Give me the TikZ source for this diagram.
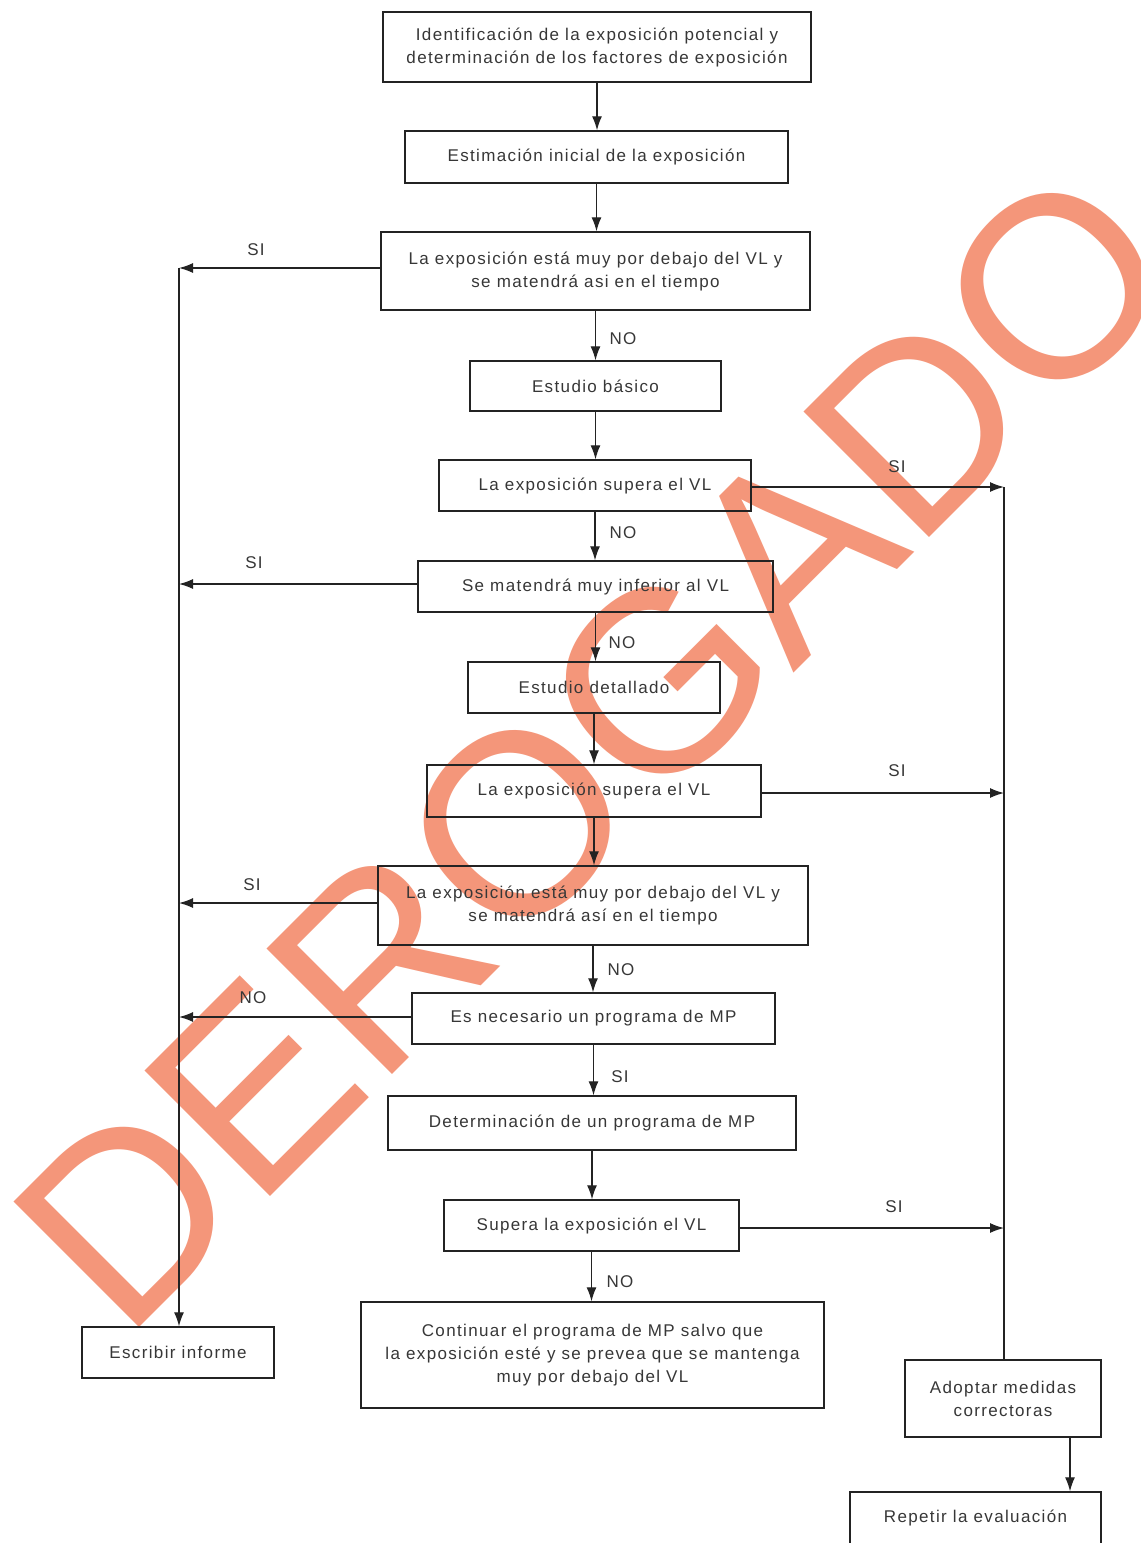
\documentclass[tikz,border=0pt]{standalone}
\usepackage{fontspec}
\setmainfont{Liberation Sans}
\newfontfamily\wmfont{Liberation Sans}
\newfontfamily\boxfont[LetterSpace=8]{Liberation Sans}
\usetikzlibrary{arrows.meta}
\definecolor{wm}{RGB}{244,150,122}
\definecolor{txt}{RGB}{55,55,55}
\definecolor{ln}{RGB}{35,35,35}
\tikzset{
  box/.style={draw=ln, line width=1.4pt, inner sep=0pt, align=center, text=txt,
    font=\boxfont\fontsize{17}{23}\selectfont},
  arr/.style={draw=ln, line width=1.3pt, -{Latex[length=14pt,width=10pt]}},
  plain/.style={draw=ln, line width=1.3pt},
  lab/.style={text=txt, font=\boxfont\fontsize{17}{20}\selectfont, inner sep=0pt}
}
\begin{document}
\begin{tikzpicture}[x=1pt,y=-1pt]
\useasboundingbox (0,0) rectangle (1141,1543);
\clip (0,0) rectangle (1141,1543);
\fill[white] (0,0) rectangle (1141,1543);
% watermark
\node[rotate=45, anchor=base west, text=wm, inner sep=0pt,
  font=\wmfont\fontsize{258}{258}\selectfont] (wmark) at (124,1343) {DEROGADO};
% boxes
\node[box, minimum width=428pt, minimum height=70pt] (b1) at (597,47)
  {Identificación de la exposición potencial y\\determinación de los factores de exposición};
\node[box, minimum width=383pt, minimum height=52pt] (b2) at (596.5,157)
  {Estimación inicial de la exposición};
\node[box, minimum width=429pt, minimum height=78pt] (b3) at (595.5,271)
  {La exposición está muy por debajo del VL y\\se matendrá asi en el tiempo};
\node[box, minimum width=251pt, minimum height=50pt] (b4) at (595.5,386)
  {Estudio básico};
\node[box, minimum width=312pt, minimum height=51pt] (b5) at (595,485.5)
  {La exposición supera el VL};
\node[box, minimum width=355pt, minimum height=51pt] (b6) at (595.5,586.5)
  {Se matendrá muy inferior al VL};
\node[box, minimum width=252pt, minimum height=51pt] (b7) at (594,687.5)
  {Estudio detallado};
\node[box, minimum width=334pt, minimum height=52pt] (b8) at (594,791)
  {La exposición supera el VL};
\node[box, minimum width=430pt, minimum height=79pt] (b9) at (593,905.5)
  {La exposición está muy por debajo del VL y\\se matendrá así en el tiempo};
\node[box, minimum width=363pt, minimum height=51pt] (b10) at (593.5,1018.5)
  {Es necesario un programa de MP};
\node[box, minimum width=408pt, minimum height=54pt] (b11) at (592,1123)
  {Determinación de un programa de MP};
\node[box, minimum width=295pt, minimum height=51pt] (b12) at (591.5,1225.5)
  {Supera la exposición el VL};
\node[box, minimum width=463pt, minimum height=106pt] (b13) at (592.5,1355)
  {Continuar el programa de MP salvo que\\la exposición esté y se prevea que se mantenga\\muy por debajo del VL};
\node[box, minimum width=192pt, minimum height=51pt] (b14) at (178,1352.5)
  {Escribir informe};
\node[box, minimum width=196pt, minimum height=77pt] (b15) at (1003,1398.5)
  {Adoptar medidas\\correctoras};
\node[box, minimum width=251pt, minimum height=52pt] (b16) at (975.5,1518)
  {Repetir la evaluación};
% collector coordinates
\coordinate (L) at (179,268);
\coordinate (R) at (1004,487);
% main vertical flow
\foreach \a/\b in {b1/b2,b2/b3,b3/b4,b4/b5,b5/b6,b6/b7,b7/b8,b8/b9,b9/b10,b10/b11,b11/b12,b12/b13}
  \draw[arr] (\a.south) -- (\a.south |- \b.north);
% left collector
\draw[arr] ([yshift=3pt]b3.west) -- ([yshift=3pt]b3.west -| L);
\draw[arr] ([yshift=2.5pt]b6.west) -- ([yshift=2.5pt]b6.west -| L);
\draw[arr] ([yshift=2.5pt]b9.west) -- ([yshift=2.5pt]b9.west -| L);
\draw[arr] ([yshift=1.5pt]b10.west) -- ([yshift=1.5pt]b10.west -| L);
\draw[arr] (L) -- (L |- b14.north);
% right collector
\draw[plain] (R) -- (R |- b15.north);
\draw[arr] ([yshift=-1.5pt]b5.east) -- ([yshift=-1.5pt]b5.east -| R);
\draw[arr] ([yshift=-2pt]b8.east) -- ([yshift=-2pt]b8.east -| R);
\draw[arr] ([yshift=-2.5pt]b12.east) -- ([yshift=-2.5pt]b12.east -| R);
\draw[arr] ([xshift=67pt]b15.south) -- ([xshift=67pt]b15.south |- b16.north);
% labels
\node[lab] (s1) at (256,250) {SI};
\node[lab] (s2) at (254,563) {SI};
\node[lab] (s3) at (252,885) {SI};
\node[lab] (n4) at (253,998) {NO};
\node[lab] (s5) at (897,467) {SI};
\node[lab] (s6) at (897,771) {SI};
\node[lab] (s7) at (894,1207) {SI};
\node[lab] (n1) at (623,339) {NO};
\node[lab] (n2) at (623,533) {NO};
\node[lab] (n3) at (622,643) {NO};
\node[lab] (n5) at (621,970) {NO};
\node[lab] (s8) at (620,1077) {SI};
\node[lab] (n6) at (620,1282) {NO};
\end{tikzpicture}
\end{document}
